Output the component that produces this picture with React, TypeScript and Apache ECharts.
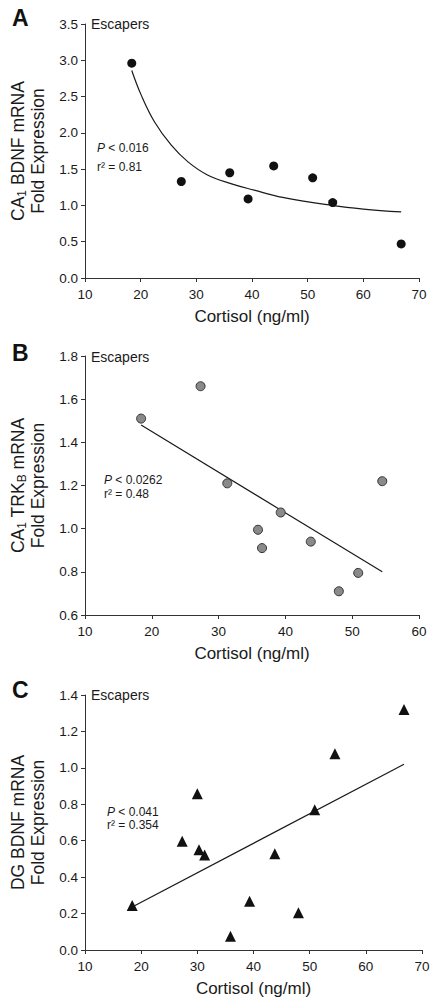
import React, { useEffect, useRef } from "react";
import * as echarts from "echarts";

// Panel A: CA1 BDNF mRNA vs cortisol
const cortisolA = [18.4, 27.3, 36.0, 39.3, 43.9, 50.9, 54.5, 66.8];
const bdnfCA1 = [2.96, 1.33, 1.45, 1.09, 1.545, 1.38, 1.04, 0.47];
const curveAX = [18.4, 20.1, 22.5, 25.5, 28.5, 32.0, 36.2, 40.4, 45.5, 54.4, 60.0, 66.8];
const curveAY = [2.86, 2.52, 2.15, 1.83, 1.6, 1.42, 1.3, 1.21, 1.11, 1.0, 0.95, 0.91];

// Panel B: CA1 TRKB mRNA vs cortisol
const cortisolB = [18.4, 27.3, 31.3, 35.9, 36.5, 39.3, 43.8, 48.0, 50.9, 54.5];
const trkbCA1 = [1.51, 1.66, 1.21, 0.995, 0.91, 1.075, 0.94, 0.71, 0.795, 1.22];
const fitBX = [18.4, 54.5];
const fitBY = [1.48, 0.8];

// Panel C: DG BDNF mRNA vs cortisol
const cortisolC = [18.4, 27.3, 30.0, 30.3, 31.3, 35.9, 39.3, 43.8, 48.0, 50.9, 54.5, 66.8];
const bdnfDG = [0.245, 0.597, 0.858, 0.551, 0.522, 0.075, 0.267, 0.529, 0.205, 0.77, 1.078, 1.32];
const fitCX = [18.4, 66.8];
const fitCY = [0.236, 1.02];

const panelLetters = ["A", "B", "C"];
const yNames = [
  "CA{sub|1} BDNF mRNA\nFold Expression",
  "CA{sub|1} TRK{sub|B} mRNA\nFold Expression",
  "DG BDNF mRNA\nFold Expression",
];
const pTexts = ["0.016", "0.0262", "0.041"];
const r2Texts = ["0.81", "0.48", "0.354"];
const xName = "Cortisol (ng/ml)";
const groupLabel = "Escapers";

const FONT = "'Liberation Sans', Arial, Helvetica, sans-serif";
const INK = "#1a1a1a";

const zip = (xs: number[], ys: number[]) => xs.map((x, i) => [x, ys[i]]);

export default function App() {
  const ref = useRef<HTMLDivElement>(null);
  useEffect(() => {
    if (!ref.current) return;
    const chart = echarts.init(ref.current, undefined, { renderer: "svg" });

    const grids = [
      { left: 83, top: 24, width: 336, height: 254 },
      { left: 84, top: 356, width: 335, height: 259 },
      { left: 84, top: 695, width: 338, height: 255 },
    ];
    const xRanges = [
      [10, 70],
      [10, 60],
      [10, 70],
    ];
    const yRanges = [
      [0, 3.5, 0.5],
      [0.6, 1.8, 0.2],
      [0, 1.4, 0.2],
    ];

    const axisCommon = {
      axisLine: { show: true, lineStyle: { color: "#333", width: 1 } },
      axisTick: { show: true, inside: false, length: 4, lineStyle: { color: "#333", width: 1 } },
      splitLine: { show: false },
    };

    const xAxis = grids.map((_, i) => ({
      type: "value",
      gridIndex: i,
      min: xRanges[i][0],
      max: xRanges[i][1],
      interval: 10,
      name: xName,
      nameLocation: "middle",
      nameGap: 30,
      nameTextStyle: { fontFamily: FONT, fontSize: 17, color: INK },
      ...axisCommon,
      axisLabel: { fontFamily: FONT, fontSize: 13.5, color: INK, margin: 9 },
    }));

    const yAxis = grids.map((_, i) => ({
      type: "value",
      gridIndex: i,
      min: yRanges[i][0],
      max: yRanges[i][1],
      interval: yRanges[i][2],
      name: yNames[i],
      nameLocation: "middle",
      nameRotate: 90,
      nameGap: 37,
      nameTextStyle: {
        fontFamily: FONT,
        fontSize: 17.5,
        lineHeight: 20,
        color: INK,
        rich: {
          sub: { fontFamily: FONT, fontSize: 12, lineHeight: 12, verticalAlign: "bottom", color: INK },
        },
      },
      ...axisCommon,
      axisLabel: {
        fontFamily: FONT,
        fontSize: 13.5,
        color: INK,
        margin: 7,
        formatter: (v: number) => v.toFixed(1),
      },
    }));

    const series: any[] = [
      {
        type: "line",
        xAxisIndex: 0,
        yAxisIndex: 0,
        data: zip(curveAX, curveAY),
        smooth: 0.4,
        showSymbol: false,
        symbol: "none",
        lineStyle: { color: INK, width: 1.2 },
        z: 2,
      },
      {
        type: "scatter",
        xAxisIndex: 0,
        yAxisIndex: 0,
        data: zip(cortisolA, bdnfCA1),
        symbol: "circle",
        symbolSize: 9,
        itemStyle: { color: "#111", opacity: 1 },
        z: 3,
      },
      {
        type: "line",
        xAxisIndex: 1,
        yAxisIndex: 1,
        data: zip(fitBX, fitBY),
        symbol: "none",
        lineStyle: { color: INK, width: 1.2 },
        z: 2,
      },
      {
        type: "scatter",
        xAxisIndex: 1,
        yAxisIndex: 1,
        data: zip(cortisolB, trkbCA1),
        symbol: "circle",
        symbolSize: 9,
        itemStyle: { color: "#8a8a8a", borderColor: "#333", borderWidth: 1, opacity: 1 },
        z: 3,
      },
      {
        type: "line",
        xAxisIndex: 2,
        yAxisIndex: 2,
        data: zip(fitCX, fitCY),
        symbol: "none",
        lineStyle: { color: INK, width: 1.2 },
        z: 2,
      },
      {
        type: "scatter",
        xAxisIndex: 2,
        yAxisIndex: 2,
        data: zip(cortisolC, bdnfDG),
        symbol: "triangle",
        symbolSize: 11,
        itemStyle: { color: "#111", opacity: 1 },
        z: 3,
      },
    ];

    const letterPos = [
      [12, 18],
      [12, 353],
      [12, 690],
    ];
    const escPos = [
      [91, 24],
      [91, 357],
      [91, 695],
    ];
    const pPos = [
      [97, 148, 167],
      [104, 480, 494],
      [107, 811.5, 824.5],
    ];

    const graphic: any[] = [];
    panelLetters.forEach((L, i) => {
      graphic.push({
        type: "text",
        left: letterPos[i][0],
        y: letterPos[i][1],
        style: {
          text: L,
          fontFamily: FONT,
          fontSize: 23,
          fontWeight: "bold",
          fill: "#111",
          verticalAlign: "middle",
        },
      });
      graphic.push({
        type: "text",
        x: escPos[i][0],
        y: escPos[i][1],
        style: {
          text: groupLabel,
          fontFamily: FONT,
          fontSize: 14,
          fill: INK,
          verticalAlign: "middle",
        },
      });
      graphic.push({
        type: "text",
        x: pPos[i][0],
        y: pPos[i][1],
        style: {
          text: "{it|P} < " + pTexts[i],
          fontFamily: FONT,
          fontSize: 12,
          lineHeight: 12,
          fill: INK,
          verticalAlign: "middle",
          rich: { it: { fontFamily: FONT, fontSize: 12, lineHeight: 12, fontStyle: "italic", fill: INK } },
        },
      });
      graphic.push({
        type: "text",
        x: pPos[i][0],
        y: pPos[i][2],
        style: {
          text: "r\u00B2 = " + r2Texts[i],
          fontFamily: FONT,
          fontSize: 12,
          lineHeight: 12,
          fill: INK,
          verticalAlign: "middle",
        },
      });
    });

    chart.setOption({
      animation: false,
      backgroundColor: "#ffffff",
      grid: grids,
      xAxis,
      yAxis,
      series,
      graphic,
    });

    return () => chart.dispose();
  }, []);

  return (
    <div
      ref={ref}
      style={{ position: "absolute", left: 0, top: 0, width: 439, height: 1007 }}
    />
  );
}
